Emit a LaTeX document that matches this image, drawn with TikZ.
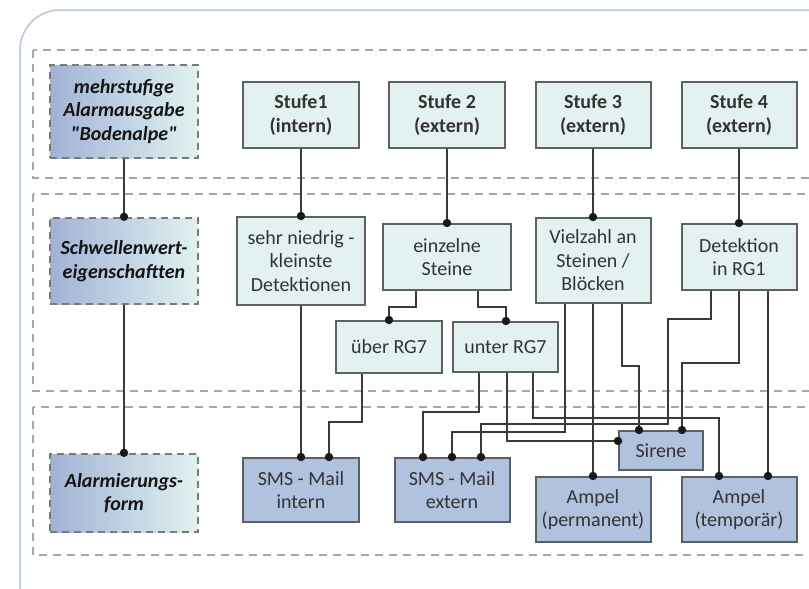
\documentclass[tikz,border=0pt]{standalone}
\usepackage{fontspec}
\setmainfont{Carlito}
\usetikzlibrary{calc}
\definecolor{boxfill}{HTML}{E3F2F0}
\definecolor{boxline}{HTML}{5C6262}
\definecolor{outfill}{HTML}{B0C2DE}
\definecolor{wirec}{HTML}{3A3A3A}
\definecolor{bandc}{HTML}{A8A8A8}
\definecolor{framec}{HTML}{B4C6DC}
\definecolor{gradL}{HTML}{A2B2D6}
\definecolor{gradR}{HTML}{E0F2F0}
\definecolor{txt}{HTML}{333333}
\definecolor{ltxt}{HTML}{141414}
\definecolor{lline}{HTML}{7A7A7A}
\newcommand\mydot[1]{\fill[black!90] #1 circle (4.2pt);}
\begin{document}
\begin{tikzpicture}[x=1pt,y=-1pt,
  every node/.style={font=\fontsize{20}{23.5}\selectfont, text=txt, align=center, inner sep=0pt},
  sz/.style 2 args={minimum width=#1pt, minimum height=#2pt},
  sbox/.style={draw=boxline, line width=2pt, fill=boxfill},
  abox/.style={draw=boxline, line width=2pt, fill=outfill},
  lbox/.style={draw=lline, line width=2.4pt, dash pattern=on 7pt off 5pt, left color=gradL, right color=gradR, text=ltxt, font=\fontsize{20}{23.5}\selectfont\bfseries\itshape},
  bandbox/.style={draw=bandc, line width=2pt, dash pattern=on 8pt off 6pt},
  wire/.style={draw=wirec, line width=2pt},
  stext/.style={font=\fontsize{20}{24}\selectfont\bfseries}]
\useasboundingbox (0,0) rectangle (809,589);
\clip (0,0) rectangle (809,589);
% outer frame
\draw[framec, line width=1.5pt, rounded corners=40pt] (20,10) rectangle (880,640);
% bands
\draw[bandbox] (33,50) rectangle (880,178);
\draw[bandbox] (33,194) rectangle (880,391);
\draw[bandbox] (33,407) rectangle (880,555);
% left labels
\node[lbox, sz={148}{93}] (L1) at (124,111.5) {mehrstufige\\Alarmausgabe\\\textquotedbl Bodenalpe\textquotedbl};
\node[lbox, sz={148}{86}] (L2) at (124,261) {Schwellenwert-\\eigenschaftten};
\node[lbox, sz={148}{78}] (L3) at (124,493) {Alarmierungs-\\form};
% top row
\node[sbox, stext, sz={116}{66}] (S1) at (301,115) {Stufe1\\(intern)};
\node[sbox, stext, sz={116}{66}] (S2) at (447,115) {Stufe 2\\(extern)};
\node[sbox, stext, sz={115}{66}] (S3) at (593,115) {Stufe 3\\(extern)};
\node[sbox, stext, sz={115}{66}] (S4) at (739,115) {Stufe 4\\(extern)};
% middle row
\node[sbox, sz={128}{88}] (M1) at (301,261) {sehr niedrig -\\kleinste\\Detektionen};
\node[sbox, sz={128}{66}] (M2) at (447,257) {einzelne\\Steine};
\node[sbox, sz={115}{85}] (M3) at (593,260.5) {Vielzahl an\\Steinen /\\Blöcken};
\node[sbox, sz={115}{66}] (M4) at (739,257) {Detektion\\in RG1};
\node[sbox, sz={106}{52}] (ueber) at (389,347) {über RG7};
\node[sbox, sz={105}{50}] (unter) at (505.5,347) {unter RG7};
% bottom row
\node[abox, sz={116}{64}] (SMSi) at (301,490) {SMS - Mail\\intern};
\node[abox, sz={115}{64}] (SMSe) at (452,490) {SMS - Mail\\extern};
\node[abox, sz={84}{39}] (Sir) at (661,450.5) {Sirene};
\node[abox, sz={115}{65}] (AmpP) at (593,509.5) {Ampel\\(permanent)};
\node[abox, sz={115}{65}] (AmpT) at (739,509.5) {Ampel\\(temporär)};
% left connectors
\draw[wire] (L1.south) -- (L2.north);
\draw[wire] (L2.south) -- (L3.north);
\mydot{(L2.north)}
\mydot{(L3.north)}
% top to middle
\draw[wire] (S1.south) -- (M1.north);
\draw[wire] (S2.south) -- (M2.north);
\draw[wire] (S3.south) -- (M3.north);
\draw[wire] (S4.south) -- (M4.north);
\mydot{(M1.north)}
\mydot{(M2.north)}
\mydot{(M3.north)}
\mydot{(M4.north)}
% einzelne Steine split
\draw[wire] (M2.south -| 416,0) |- (389,307) -- (ueber.north);
\draw[wire] (M2.south -| 478,0) |- (506,307) -- (unter.north -| 506,0);
\mydot{(ueber.north)}
\mydot{(unter.north -| 506,0)}
% to SMS intern
\draw[wire] (M1.south) -- (SMSi.north);
\draw[wire] (ueber.south -| 362,0) |- (329,422) -- (SMSi.north -| 329,0);
\mydot{(SMSi.north)}
\mydot{(SMSi.north -| 329,0)}
% from unter RG7
\draw[wire] (unter.south -| 479,0) |- (423,412) -- (SMSe.north -| 423,0);
\draw[wire] (unter.south -| 507,0) |- (Sir.west |- 0,441);
\draw[wire] (unter.south -| 533,0) |- (719,418) -- (AmpT.north -| 719,0);
% from Vielzahl
\draw[wire] (M3.south -| 565,0) |- (452,432) -- (SMSe.north);
\draw[wire] (M3.south) -- (AmpP.north);
\draw[wire] (M3.south -| 622,0) |- (639,366) -- (Sir.north -| 639,0);
% from Detektion
\draw[wire] (M4.south -| 711,0) |- (668,319) |- (481,424) -- (SMSe.north -| 481,0);
\draw[wire] (M4.south) |- (682,363) -- (Sir.north -| 682,0);
\draw[wire] (M4.south -| 768,0) -- (AmpT.north -| 768,0);
% dots
\mydot{(SMSe.north -| 423,0)}
\mydot{(SMSe.north)}
\mydot{(SMSe.north -| 481,0)}
\mydot{(Sir.west |- 0,441)}
\mydot{(Sir.north -| 639,0)}
\mydot{(Sir.north -| 682,0)}
\mydot{(AmpP.north)}
\mydot{(AmpT.north -| 719,0)}
\mydot{(AmpT.north -| 768,0)}
\end{tikzpicture}
\end{document}
